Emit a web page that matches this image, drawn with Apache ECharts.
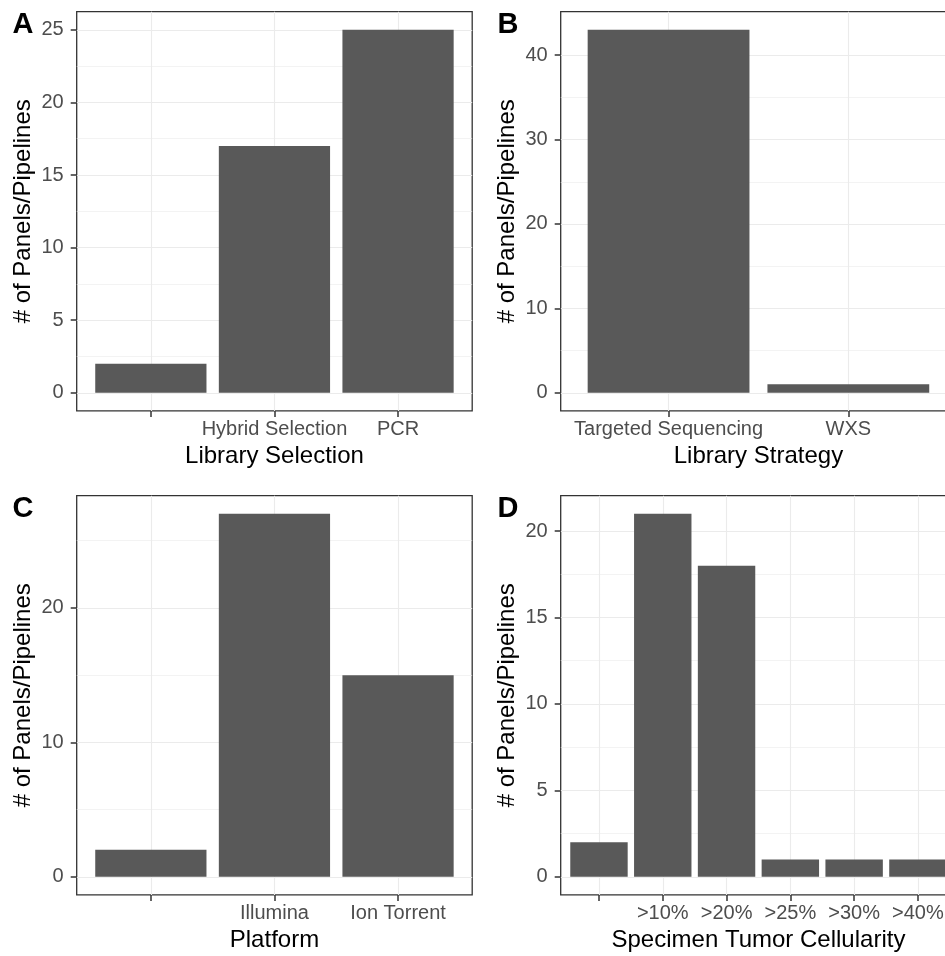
<!DOCTYPE html>
<html>
<head>
<meta charset="utf-8">
<script src="https://cdn.jsdelivr.net/npm/echarts@6/dist/echarts.min.js"></script>
<style>
html,body{margin:0;padding:0;background:#fff;}
#chart{width:945px;height:956px;}
</style>
</head>
<body>
<div id="chart"></div>
<script>
// ---- data ----
const catsA = ['', 'Hybrid Selection', 'PCR'];
const valsA = [2, 17, 25];
const ticksA = [0, 5, 10, 15, 20, 25];
const minorA = [2.5, 7.5, 12.5, 17.5, 22.5];

const catsB = ['Targeted Sequencing', 'WXS'];
const valsB = [43, 1];
const ticksB = [0, 10, 20, 30, 40];
const minorB = [5, 15, 25, 35];

const catsC = ['', 'Illumina', 'Ion Torrent'];
const valsC = [2, 27, 15];
const ticksC = [0, 10, 20];
const minorC = [5, 15, 25];

const catsD = ['', '>10%', '>20%', '>25%', '>30%', '>40%'];
const valsD = [2, 21, 18, 1, 1, 1];
const ticksD = [0, 5, 10, 15, 20];
const minorD = [2.5, 7.5, 12.5, 17.5];

const panelLabels = ['A', 'B', 'C', 'D'];
const xTitles = ['Library Selection', 'Library Strategy', 'Platform', 'Specimen Tumor Cellularity'];
const yTitle = '# of Panels/Pipelines';

// ---- layout / style ----
const FONT = '"Liberation Sans", Arial, Helvetica, sans-serif';
const panels = [
  {cats: catsA, vals: valsA, ticks: ticksA, minor: minorA, left: 76.7, top: 11.7},
  {cats: catsB, vals: valsB, ticks: ticksB, minor: minorB, left: 560.7, top: 11.7},
  {cats: catsC, vals: valsC, ticks: ticksC, minor: minorC, left: 76.7, top: 495.7},
  {cats: catsD, vals: valsD, ticks: ticksD, minor: minorD, left: 560.7, top: 495.7}
];
const GW = 395.5, GH = 399.2;
const labelPos = [[12.5, 10], [497.5, 10], [12.5, 494], [497.5, 494]];

const grid = [], xAxis = [], yAxis = [], series = [], graphic = [];
panels.forEach((p, k) => {
  grid.push({
    left: p.left, top: p.top, width: GW, height: GH,
    show: true, borderColor: '#333333', borderWidth: 1.3, backgroundColor: 'transparent',
    containLabel: false, outerBoundsMode: 'none'
  });
  const n = p.cats.length;
  const idx = p.cats.map((c, i) => i);
  xAxis.push({
    type: 'value', gridIndex: k, min: -0.6, max: n - 0.4, position: 'bottom',
    name: xTitles[k], nameLocation: 'middle', nameGap: 33,
    nameTextStyle: {fontFamily: FONT, fontSize: 24, color: '#000'},
    axisLine: {show: false, onZero: false},
    axisTick: {show: true, length: 6, customValues: idx, lineStyle: {color: '#333333', width: 1.5}},
    axisLabel: {show: true, customValues: idx, margin: 9, fontFamily: FONT, fontSize: 20, color: '#4D4D4D',
      formatter: v => p.cats[Math.round(v)], hideOverlap: false},
    splitLine: {show: true, lineStyle: {color: '#EBEBEB', width: 1.1}}
  });
  const vmax = Math.max.apply(null, p.vals);
  const ymin = -0.05 * vmax, ymax = 1.05 * vmax;
  yAxis.push({
    type: 'value', gridIndex: k, min: ymin, max: ymax, position: 'left',
    name: yTitle, nameLocation: 'middle', nameGap: 41, nameRotate: 90,
    nameTextStyle: {fontFamily: FONT, fontSize: 24, color: '#000'},
    axisLine: {show: false, onZero: false},
    axisTick: {show: true, inside: false, length: 6, customValues: p.ticks, lineStyle: {color: '#333333', width: 1.5}},
    axisLabel: {show: true, customValues: p.ticks, margin: 13, fontFamily: FONT, fontSize: 20, color: '#4D4D4D'},
    splitLine: {show: true, lineStyle: {color: '#EBEBEB', width: 1.1}}
  });
  yAxis.push({
    type: 'value', gridIndex: k, min: ymin, max: ymax, position: 'right',
    axisLine: {show: false, onZero: false},
    axisTick: {show: false, customValues: p.minor},
    axisLabel: {show: false, customValues: p.minor},
    splitLine: {show: true, lineStyle: {color: '#EBEBEB', width: 0.6}}
  });
  series.push({
    type: 'bar', xAxisIndex: k, yAxisIndex: 2 * k,
    data: p.vals.map((v, i) => [i, v]),
    barWidth: '90%',
    itemStyle: {color: '#595959'},
    silent: true
  });
  graphic.push({
    type: 'text', x: labelPos[k][0], y: labelPos[k][1],
    style: {text: panelLabels[k], font: 'bold 29px ' + FONT, fill: '#000', textVerticalAlign: 'top'}
  });
});

const chart = echarts.init(document.getElementById('chart'), null, {renderer: 'canvas'});
chart.setOption({
  animation: false,
  backgroundColor: '#fff',
  grid, xAxis, yAxis, series, graphic
});
</script>
</body>
</html>
